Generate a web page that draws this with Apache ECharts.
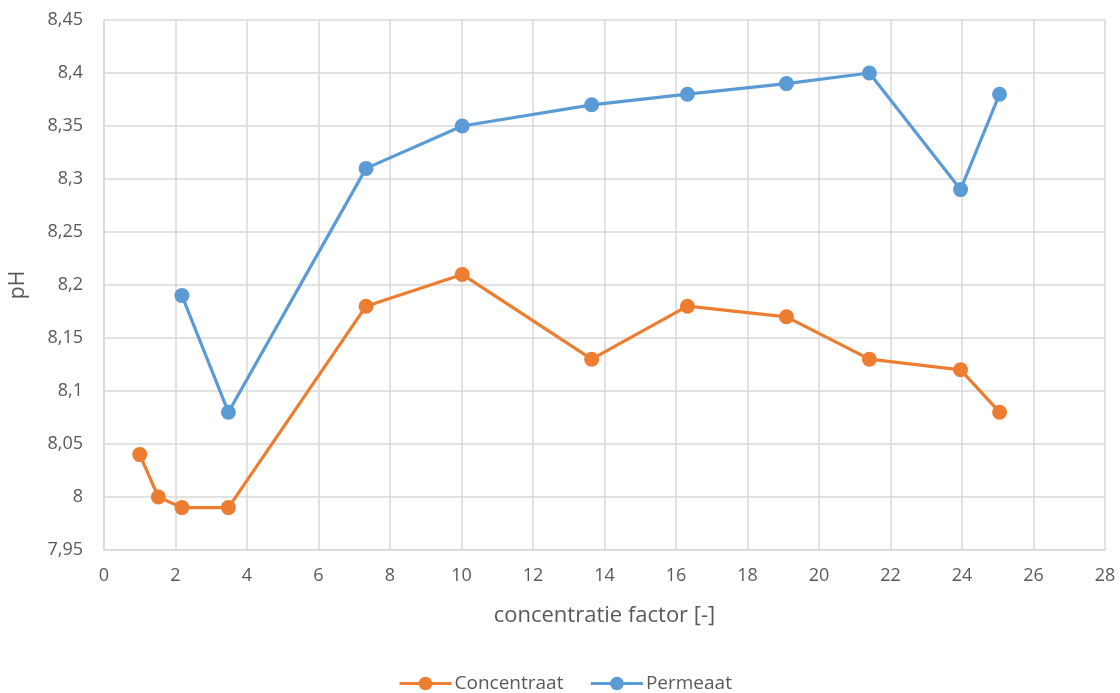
<!DOCTYPE html>
<html>
<head>
<meta charset="utf-8">
<script src="https://cdn.jsdelivr.net/npm/echarts@6/dist/echarts.min.js"></script>
<style>
html,body{margin:0;padding:0;background:#fff;}
#chart{width:1120px;height:693px;}
</style>
</head>
<body>
<div id="chart"></div>
<script>
var seriesNames = ['Concentraat', 'Permeaat'];
var concX = [1.0, 1.52, 2.18, 3.48, 7.33, 10.02, 13.64, 16.32, 19.09, 21.41, 23.96, 25.05];
var concY = [8.04, 8.00, 7.99, 7.99, 8.18, 8.21, 8.13, 8.18, 8.17, 8.13, 8.12, 8.08];
var permX = [2.18, 3.48, 7.33, 10.02, 13.64, 16.32, 19.09, 21.41, 23.96, 25.05];
var permY = [8.19, 8.08, 8.31, 8.35, 8.37, 8.38, 8.39, 8.40, 8.29, 8.38];
var xAxisTicks = {min: 0, max: 28, interval: 2};
var yAxisTicks = {min: 7.95, max: 8.45, interval: 0.05};
var xTitle = 'concentratie factor [-]';
var yTitle = 'pH';

function pairs(xs, ys) { return xs.map(function (x, i) { return [x, ys[i]]; }); }

var FONT = 'Open Sans';
var TXT = '#595959';
var GRID = '#d9d9d9';

var chart = echarts.init(document.getElementById('chart'), null, {renderer: 'canvas'});
chart.setOption({
  animation: false,
  backgroundColor: '#ffffff',
  textStyle: {fontFamily: FONT},
  grid: {left: 103, right: 15, top: 20, bottom: 143, containLabel: false},
  legend: {
    top: 674,
    left: 398,
    padding: 0,
    itemWidth: 52,
    itemHeight: 17,
    itemGap: 26,
    lineStyle: {width: 3},
    textStyle: {color: TXT, fontSize: 19, fontFamily: FONT, padding: [0, 0, 0, -2]},
    data: seriesNames
  },
  xAxis: {
    type: 'value',
    min: xAxisTicks.min, max: xAxisTicks.max, interval: xAxisTicks.interval,
    name: xTitle,
    nameLocation: 'middle',
    nameGap: 55,
    nameTextStyle: {color: TXT, fontSize: 22, fontFamily: FONT},
    axisLine: {show: true, lineStyle: {color: GRID, width: 1.5}},
    axisTick: {show: false},
    axisLabel: {color: TXT, fontSize: 18, margin: 17, fontFamily: FONT},
    splitLine: {show: true, lineStyle: {color: GRID, width: 1.5}}
  },
  yAxis: {
    type: 'value',
    min: yAxisTicks.min, max: yAxisTicks.max, interval: yAxisTicks.interval,
    name: yTitle,
    nameLocation: 'middle',
    nameRotate: 90,
    nameGap: 75,
    nameTextStyle: {color: TXT, fontSize: 21, fontFamily: FONT},
    axisLine: {show: true, lineStyle: {color: GRID, width: 1.5}},
    axisTick: {show: false},
    axisLabel: {
      color: TXT, fontSize: 18, margin: 21, fontFamily: FONT,
      formatter: function (v) { return String(Math.round(v * 100) / 100).replace('.', ','); }
    },
    splitLine: {show: true, lineStyle: {color: GRID, width: 1.5}}
  },
  series: [
    {
      name: seriesNames[0], type: 'line', data: pairs(concX, concY),
      symbol: 'circle', symbolSize: 15,
      lineStyle: {color: '#ED7D31', width: 3.2},
      itemStyle: {color: '#ED7D31'}
    },
    {
      name: seriesNames[1], type: 'line', data: pairs(permX, permY),
      symbol: 'circle', symbolSize: 15,
      lineStyle: {color: '#5B9BD5', width: 3.2},
      itemStyle: {color: '#5B9BD5'}
    }
  ]
});
</script>
</body>
</html>
